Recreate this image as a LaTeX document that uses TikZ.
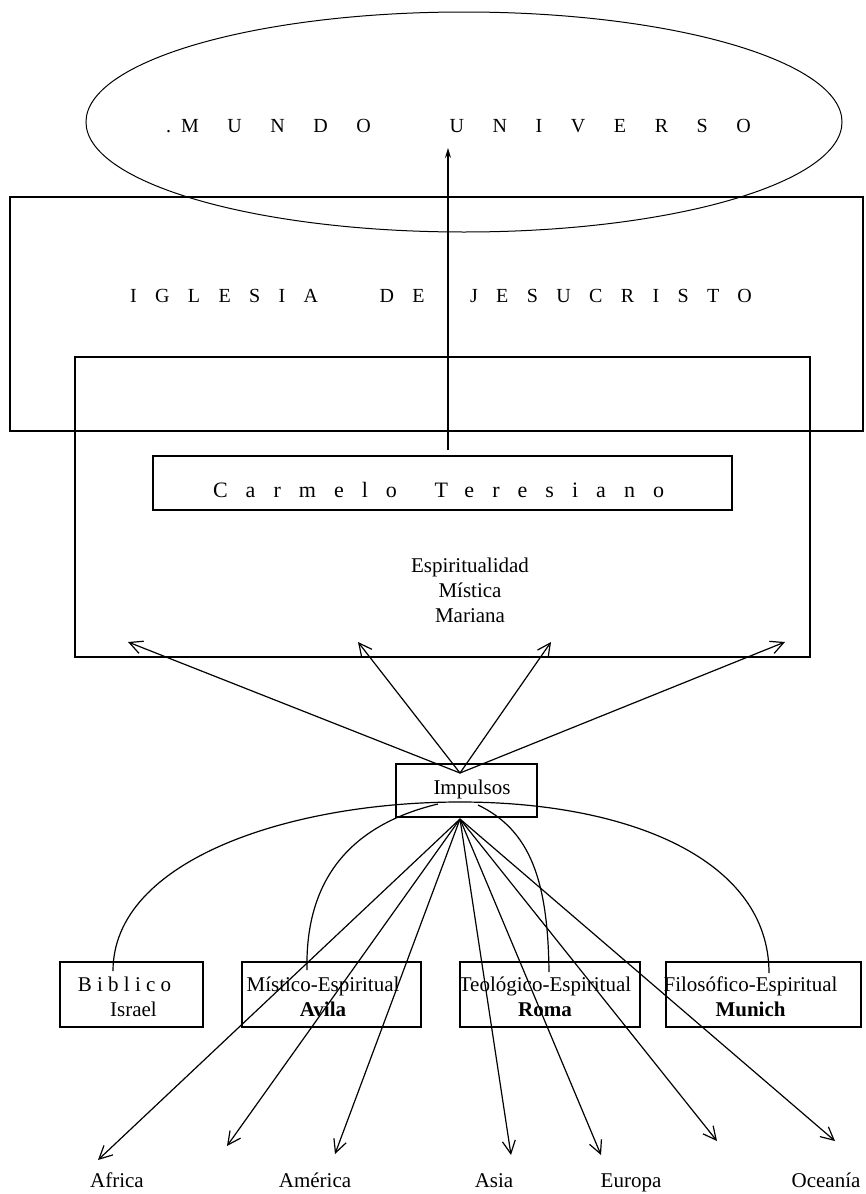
\documentclass[tikz,border=0pt]{standalone}
\usepackage{fontspec}
\setmainfont{Liberation Serif}
\usetikzlibrary{shapes.geometric,arrows.meta,calc}
\begin{document}
\begin{tikzpicture}[x=1pt,y=-1pt,
  every node/.style={inner sep=0pt, outer sep=0pt},
  frame/.style={draw, line width=1.4pt},
  conn/.style={line width=1.2pt},
  barb/.style={conn, -{Straight Barb[length=13pt,width=13pt]}},
  lbl/.style={font=\fontsize{21}{25}\selectfont, align=center},
  caps/.style={font=\fontsize{20}{25}\selectfont},
]
\useasboundingbox (0,0) rectangle (865,1194);

% frames
\node[draw, ellipse, line width=1pt, minimum width=756pt, minimum height=220pt] (mundo) at (464,122) {};
\node[frame, minimum width=853pt, minimum height=234pt] (iglesia) at (436.5,314) {};
\node[frame, minimum width=735pt, minimum height=300pt] (carmbox) at (442.5,507) {};
\node[frame, minimum width=579pt, minimum height=54pt] (carmelo) at (442.5,483) {};
\node[frame, minimum width=141pt, minimum height=53pt] (impulsos) at (466.5,790.5) {};
\node[frame, minimum width=143pt, minimum height=65pt] (biblico) at (131.5,994.5) {};
\node[frame, minimum width=179pt, minimum height=65pt] (avila) at (331.5,994.5) {};
\node[frame, minimum width=180pt, minimum height=65pt] (roma) at (550,994.5) {};
\node[frame, minimum width=195pt, minimum height=65pt] (munich) at (763.5,994.5) {};

% texts
\node[caps, anchor=base west] (tmundo) at (166,132) {.\kern10pt\addfontfeatures{LetterSpace=143}MUNDO\hspace{45pt} UNIVERSO};
\node[caps, anchor=base west] (tiglesia) at (130,302) {\addfontfeatures{LetterSpace=92}IGLESIA\hspace{38pt} DE\hspace{22pt} JESUCRISTO};
\node[anchor=base west, font=\fontsize{22}{25}\selectfont] (tcarmelo) at (213,497) {\addfontfeatures{LetterSpace=82}Carmelo\hspace{14pt} Teresiano};
\node[lbl] (tesp) at (470,590) {Espiritualidad\\Mística\\Mariana};
\node[lbl, anchor=base] (timp) at (472,794) {Impulsos};

\node[lbl] (tbib) at ($(biblico.center)+(2,2)$) {{\addfontfeatures{LetterSpace=25}Biblico}\kern18pt\\Israel};
\node[lbl] (tavila) at ($(avila.center)+(-8.5,2)$) {Místico-Espiritual\\\textbf{Avila}};
\node[lbl] (troma) at ($(roma.center)+(-5,2)$) {Teológico-Espiritual\\\textbf{Roma}};
\node[lbl] (tmunich) at ($(munich.center)+(-13,2)$) {Filosófico-Espiritual\\\textbf{Munich}};

\node[lbl, anchor=base] (africa) at (117,1187) {Africa};
\node[lbl, anchor=base] (america) at (315,1187) {América};
\node[lbl, anchor=base] (asia) at (494,1187) {Asia};
\node[lbl, anchor=base] (europa) at (631,1187) {Europa};
\node[lbl, anchor=base] (oceania) at (826,1187) {Oceanía};

% vertical arrow into the world
\coordinate (ctop) at (448,450);
\coordinate (mtip) at (448,148);
\draw[conn, -{Stealth[length=10pt,width=6pt]}] (ctop) -- (mtip);

% upward impulses
\coordinate (iup) at (460,773);
\coordinate (u1) at (128,642);
\coordinate (u2) at (358,642);
\coordinate (u3) at (551,642);
\coordinate (u4) at (785,642);
\foreach \t in {u1,u2,u3,u4} \draw[barb] (iup) -- (\t);

% downward arrows
\coordinate (idn) at (460,819);
\coordinate (d1) at (98,1160);
\coordinate (d2) at (227,1146);
\coordinate (d3) at (335,1154);
\coordinate (d4) at (511,1155);
\coordinate (d5) at (601,1155);
\coordinate (d6) at (717,1141);
\coordinate (d7) at (835,1141);
\foreach \t in {d1,d2,d3,d4,d5,d6,d7} \draw[barb] (idn) -- (\t);

% arcs from the four sources
\coordinate (apex) at (460,802);
\coordinate (kb) at (113,971);
\coordinate (ka) at (307,970);
\coordinate (kr) at (549,972);
\coordinate (km) at (769,973);
\coordinate (ja) at (438,804);
\coordinate (jr) at (478,805);
\draw[conn] (kb) .. controls (113,860) and (290,802) .. (apex);
\draw[conn] (apex) .. controls (630,802) and (769,860) .. (km);
\draw[conn] (ka) .. controls (305,880) and (350,825) .. (ja);
\draw[conn] (kr) .. controls (548,880) and (530,830) .. (jr);
\end{tikzpicture}
\end{document}
